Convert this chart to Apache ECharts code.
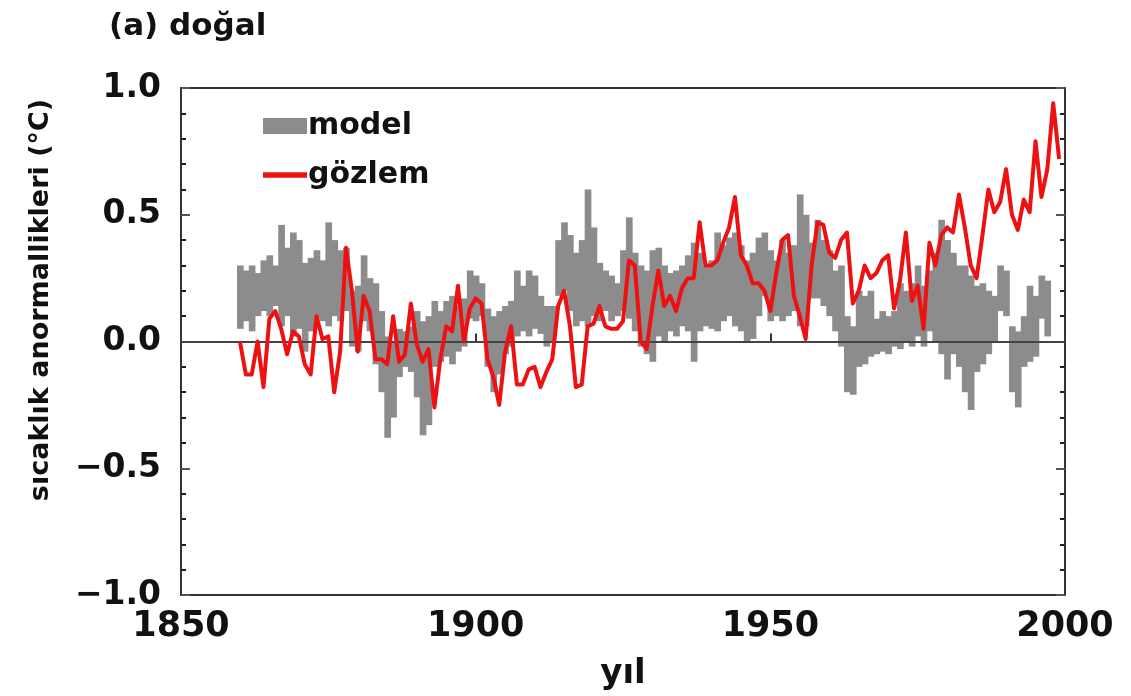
<!DOCTYPE html>
<html>
<head>
<meta charset="utf-8">
<script src="https://cdn.jsdelivr.net/npm/echarts@6/dist/echarts.min.js"></script>
<style>
  html, body { margin: 0; background: #fff; }
  #chart { width: 1131px; height: 696px; }
</style>
</head>
<body>
<div id="chart"></div>
<script>
// gözlem (observed), yearly anomaly 1860-1999
var obsStart = 1860;
var obsValues = [
  0.00, -0.13, -0.13, 0.00, -0.18, 0.09, 0.12, 0.05, -0.05, 0.04,
  0.02, -0.09, -0.13, 0.10, 0.01, 0.02, -0.20, -0.04, 0.37, 0.20,
  -0.04, 0.18, 0.12, -0.07, -0.07, -0.09, 0.10, -0.08, -0.05, 0.15,
  -0.01, -0.08, -0.03, -0.26, -0.07, 0.06, 0.04, 0.22, 0.00, 0.13,
  0.17, 0.15, -0.07, -0.14, -0.25, -0.04, 0.06, -0.17, -0.17, -0.11,
  -0.10, -0.18, -0.12, -0.07, 0.14, 0.20, 0.06, -0.18, -0.17, 0.06,
  0.07, 0.14, 0.06, 0.05, 0.05, 0.08, 0.32, 0.30, 0.00, -0.03,
  0.14, 0.28, 0.14, 0.18, 0.12, 0.21, 0.25, 0.25, 0.47, 0.30,
  0.30, 0.32, 0.39, 0.45, 0.57, 0.34, 0.30, 0.23, 0.23, 0.20,
  0.12, 0.27, 0.40, 0.42, 0.18, 0.10, 0.01, 0.30, 0.47, 0.46,
  0.35, 0.33, 0.40, 0.43, 0.15, 0.20, 0.30, 0.25, 0.27, 0.32,
  0.34, 0.13, 0.24, 0.43, 0.16, 0.22, 0.05, 0.39, 0.30, 0.42,
  0.45, 0.43, 0.58, 0.45, 0.30, 0.25, 0.42, 0.60, 0.51, 0.55,
  0.68, 0.50, 0.44, 0.56, 0.51, 0.79, 0.57, 0.68, 0.94, 0.72
];

// model ensemble range, 1860-1997
var modelStart = 1860;
var modelUpper = [
  0.30, 0.28, 0.30, 0.27, 0.32, 0.34, 0.30, 0.46, 0.37, 0.43,
  0.40, 0.31, 0.33, 0.36, 0.32, 0.47, 0.40, 0.36, 0.37, 0.20,
  0.22, 0.34, 0.25, 0.23, 0.12, 0.02, 0.00, 0.05, 0.04, 0.06,
  0.12, 0.08, 0.10, 0.16, 0.12, 0.16, 0.18, 0.14, 0.17, 0.28,
  0.26, 0.23, 0.13, 0.10, 0.12, 0.14, 0.16, 0.28, 0.22, 0.28,
  0.26, 0.18, 0.14, 0.14, 0.40, 0.47, 0.42, 0.35, 0.40, 0.60,
  0.45, 0.31, 0.28, 0.26, 0.23, 0.36, 0.49, 0.35, 0.30, 0.28,
  0.36, 0.37, 0.30, 0.27, 0.28, 0.30, 0.34, 0.39, 0.35, 0.30,
  0.32, 0.43, 0.38, 0.41, 0.43, 0.38, 0.32, 0.35, 0.41, 0.43,
  0.36, 0.32, 0.40, 0.35, 0.38, 0.58, 0.50, 0.39, 0.48, 0.40,
  0.36, 0.28, 0.30, 0.10, 0.06, 0.20, 0.18, 0.20, 0.09, 0.12,
  0.10, 0.12, 0.23, 0.20, 0.23, 0.30, 0.22, 0.28, 0.35, 0.48,
  0.40, 0.35, 0.30, 0.30, 0.26, 0.22, 0.23, 0.20, 0.18, 0.30,
  0.28, 0.06, 0.04, 0.10, 0.22, 0.18, 0.26, 0.24
];
var modelLower = [
  0.05, 0.08, 0.04, 0.10, 0.12, 0.10, 0.14, 0.06, 0.10, 0.02,
  0.05, -0.04, 0.04, 0.09, 0.08, 0.06, 0.10, 0.08, 0.12, -0.02,
  -0.04, 0.08, 0.04, -0.09, -0.20, -0.38, -0.30, -0.14, -0.10, -0.12,
  -0.22, -0.37, -0.33, -0.10, -0.08, -0.06, -0.09, -0.04, -0.02, 0.09,
  0.08, 0.10, -0.10, -0.20, -0.13, -0.05, -0.02, 0.02, 0.04, 0.02,
  0.05, 0.03, -0.02, 0.00, 0.18, 0.20, 0.12, 0.06, 0.08, 0.06,
  0.10, 0.08, 0.12, 0.08, 0.10, 0.12, 0.09, 0.04, -0.02, -0.05,
  -0.08, 0.02, 0.00, 0.04, 0.02, 0.06, 0.04, -0.08, 0.04, 0.06,
  0.05, 0.04, 0.08, 0.10, 0.06, 0.04, 0.00, 0.01, 0.10, 0.18,
  0.08, 0.10, 0.08, 0.10, 0.12, 0.06, 0.06, 0.17, 0.17, 0.14,
  0.10, 0.04, -0.02, -0.20, -0.21, -0.10, -0.09, -0.06, -0.05, -0.04,
  -0.05, -0.02, -0.03, 0.00, -0.02, 0.02, -0.02, 0.04, 0.00, -0.05,
  -0.15, -0.05, -0.10, -0.20, -0.27, -0.12, -0.09, -0.05, 0.00, 0.12,
  0.10, -0.20, -0.26, -0.10, -0.08, -0.06, 0.09, 0.02
];

var xTicks = [1850, 1900, 1950, 2000];
var yTicks = [-1.0, -0.5, 0.0, 0.5, 1.0];

var font = '"DejaVu Sans", "Liberation Sans", sans-serif';

var obsData = obsValues.map(function (v, i) { return [obsStart + i, v]; });
var bandData = modelUpper.map(function (v, i) { return [modelStart + i, modelLower[i], v]; });

var chart = echarts.init(document.getElementById('chart'));

var yAxisBase = {
  type: 'value',
  min: yTicks[0],
  max: yTicks[yTicks.length - 1],
  interval: 0.5,
  splitLine: { show: false },
  axisLine: { show: false },
  axisTick: { show: true, inside: true, length: 9, lineStyle: { color: '#555', width: 2 } },
  minorTick: { show: true, splitNumber: 5, length: 5, lineStyle: { color: '#222', width: 2 } }
};

// one grey block per model year, from lower to upper bound
function renderBand(params, api) {
  var yr = api.value(0);
  var p0 = api.coord([yr - 0.5, api.value(2)]);
  var p1 = api.coord([yr + 0.5, api.value(1)]);
  return {
    type: 'rect',
    shape: { x: p0[0], y: p0[1], width: p1[0] - p0[0] + 0.8, height: p1[1] - p0[1] },
    style: { fill: '#8c8c8c' }
  };
}

var option = {
  backgroundColor: '#fff',
  animation: false,
  title: {
    text: '(a) doğal',
    left: 104,
    top: 6,
    textStyle: { fontFamily: font, fontSize: 31, fontWeight: 'bold', color: '#111' }
  },
  legend: {
    left: 258,
    top: 106,
    orient: 'vertical',
    itemWidth: 44,
    itemHeight: 16,
    itemGap: 19,
    textStyle: { fontFamily: font, fontSize: 30, fontWeight: 'bold', color: '#111', padding: [0, 0, 0, -4] },
    data: [
      { name: 'model', icon: 'rect', itemStyle: { color: '#8c8c8c' } },
      { name: 'gözlem', icon: 'path://M0,0H40V5H0Z', itemStyle: { color: '#ee1111' } }
    ]
  },
  grid: {
    left: 181,
    right: 66,
    top: 88,
    bottom: 98,
    show: true,
    borderColor: '#333',
    borderWidth: 2
  },
  xAxis: {
    type: 'value',
    min: xTicks[0],
    max: xTicks[xTicks.length - 1],
    interval: 50,
    name: 'yıl',
    nameLocation: 'middle',
    nameGap: 62,
    nameTextStyle: { fontFamily: font, fontSize: 34, fontWeight: 'bold', color: '#111' },
    splitLine: { show: false },
    axisLine: { show: false },
    axisTick: { show: true, inside: true, length: 8, lineStyle: { color: '#333', width: 2 } },
    axisLabel: {
      margin: 14,
      fontFamily: font, fontSize: 35, fontWeight: 'bold', color: '#111',
      formatter: function (v) { return String(v); }
    }
  },
  yAxis: [
    Object.assign({}, yAxisBase, {
      position: 'left',
      axisLabel: {
        margin: 20,
        fontFamily: font, fontSize: 33, fontWeight: 'bold', color: '#111',
        formatter: function (v) { return v.toFixed(1).replace('-', '\u2212'); }
      }
    }),
    Object.assign({}, yAxisBase, {
      position: 'right',
      axisLabel: { show: false }
    })
  ],
  graphic: [{
    type: 'text',
    x: 41,
    y: 300,
    rotation: Math.PI / 2,
    style: {
      text: 'sıcaklık anormallikleri (°C)',
      font: 'bold 27px ' + font,
      fill: '#111',
      align: 'center',
      verticalAlign: 'middle'
    }
  }],
  series: [{
    name: 'model',
    type: 'custom',
    data: bandData,
    encode: { x: 0, y: [1, 2] },
    renderItem: renderBand,
    itemStyle: { color: '#8c8c8c' },
    silent: true,
    z: 2
  }, {
    name: 'gözlem',
    type: 'line',
    data: obsData,
    symbol: 'none',
    itemStyle: { color: '#ee1111' },
    lineStyle: { color: '#ee1111', width: 4, join: 'round' },
    z: 5,
    markLine: {
      silent: true,
      symbol: ['none', 'none'],
      label: { show: false },
      lineStyle: { color: '#444', width: 2, type: 'solid' },
      z: 3,
      data: [{ yAxis: 0 }]
    }
  }]
};

chart.setOption(option);
</script>
</body>
</html>
